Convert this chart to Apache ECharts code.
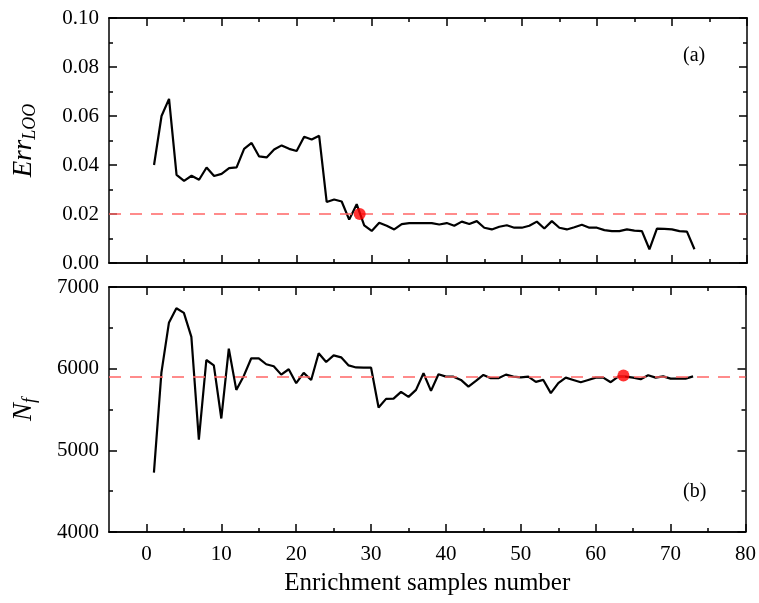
<!DOCTYPE html>
<html>
<head>
<meta charset="utf-8">
<script src="https://cdn.jsdelivr.net/npm/echarts@6/dist/echarts.min.js"></script>
<style>html,body{margin:0;padding:0;background:#fff;}#c{width:759px;height:603px;}</style>
</head>
<body>
<div id="c"></div>
<script>
const samples = [1,2,3,4,5,6,7,8,9,10,11,12,13,14,15,16,17,18,19,20,21,22,23,24,25,26,27,28,29,30,31,32,33,34,35,36,37,38,39,40,41,42,43,44,45,46,47,48,49,50,51,52,53,54,55,56,57,58,59,60,61,62,63,64,65,66,67,68,69,70,71,72,73];
const errLoo = [0.040,0.060,0.067,0.036,0.0335,0.0356,0.034,0.039,0.0355,0.0364,0.0387,0.039,0.0466,0.049,0.0435,0.0431,0.0463,0.048,0.0466,0.0457,0.0515,0.0504,0.0519,0.0249,0.0259,0.0251,0.0177,0.024,0.0154,0.0131,0.0164,0.0152,0.0137,0.0159,0.0163,0.0163,0.0163,0.0163,0.0157,0.0163,0.0152,0.0169,0.0159,0.0171,0.0144,0.0137,0.0148,0.0154,0.0144,0.0144,0.0152,0.0169,0.0141,0.0171,0.0144,0.0137,0.0146,0.0156,0.0144,0.0144,0.0134,0.013,0.013,0.0137,0.0132,0.013,0.0056,0.014,0.0139,0.0137,0.013,0.0128,0.0056];
const nf = [4728,5951,6561,6740,6683,6390,5130,6106,6041,5390,6244,5740,5911,6127,6127,6054,6029,5927,5993,5822,5948,5862,6188,6082,6163,6139,6040,6015,6012,6012,5524,5630,5634,5716,5655,5740,5944,5728,5932,5902,5902,5862,5780,5850,5923,5883,5883,5927,5902,5894,5902,5838,5862,5700,5822,5890,5862,5834,5862,5890,5890,5834,5902,5902,5890,5870,5919,5890,5906,5878,5878,5878,5906];
const errThreshold = 0.02;
const nfThreshold = 5900;
const errPoint = [28.4, 0.02];
const nfPoint = [63.7, 5915];
const xMajor = [0,10,20,30,40,50,60,70,80];
const xMinor = [5,15,25,35,45,55,65,75];

const FONT = 'Liberation Serif';
const chart = echarts.init(document.getElementById('c'));

function xAxes(gridIndex, position, showLabels) {
  const base = {
    type: 'value', gridIndex, position, min: -5, max: 80,
    splitLine: {show: false},
    axisLine: {show: true, onZero: false, lineStyle: {color: '#000', width: 1.5}}
  };
  return [
    Object.assign({}, base, {
      axisTick: {show: true, inside: true, length: 8, lineStyle: {color: '#000', width: 1.5}, customValues: xMajor},
      axisLabel: {show: showLabels, customValues: xMajor, fontFamily: FONT, fontSize: 21, color: '#000', margin: 12},
      name: showLabels ? 'Enrichment samples number' : '',
      nameLocation: 'middle', nameGap: 39,
      nameTextStyle: {fontFamily: FONT, fontSize: 25, color: '#000'}
    }),
    Object.assign({}, base, {
      axisTick: {show: true, inside: true, length: 4, lineStyle: {color: '#000', width: 1.5}, customValues: xMinor},
      axisLabel: {show: false}
    })
  ];
}

function yAxes(gridIndex, min, max, interval, fmt, name) {
  const base = {
    type: 'value', gridIndex, min, max, interval,
    splitLine: {show: false},
    axisLine: {show: true, onZero: false, lineStyle: {color: '#000', width: 1.5}},
    axisTick: {show: true, inside: true, length: 8, lineStyle: {color: '#000', width: 1.5}},
    minorTick: {show: true, splitNumber: 2, length: 4, lineStyle: {color: '#000', width: 1.5}}
  };
  return [
    Object.assign({}, base, {
      position: 'left',
      axisLabel: {show: true, formatter: fmt, fontFamily: FONT, fontSize: 21, color: '#000', margin: 10},
      name: name, nameLocation: 'middle', nameGap: 70, nameRotate: 90,
      nameTextStyle: {
        fontFamily: FONT, color: '#000',
        rich: {
          a: {fontFamily: FONT, fontStyle: 'italic', fontSize: 27, color: '#000'},
          b: {fontFamily: FONT, fontStyle: 'italic', fontSize: 18, color: '#000', padding: [12, 0, 0, 0]}
        }
      }
    }),
    Object.assign({}, base, {position: 'right', axisLabel: {show: false}})
  ];
}

const pairs = (xs, ys) => xs.map((x, i) => [x, ys[i]]);

const option = {
  animation: false,
  backgroundColor: '#fff',
  grid: [
    {left: 109, right: 12, top: 18, height: 245},
    {left: 109, right: 12, top: 287, height: 245}
  ],
  xAxis: [].concat(xAxes(0, 'bottom', false), xAxes(0, 'top', false), xAxes(1, 'bottom', true), xAxes(1, 'top', false)),
  yAxis: [].concat(
    yAxes(0, 0, 0.1, 0.02, v => v.toFixed(2), '{a|Err}{b|LOO}'),
    yAxes(1, 4000, 7000, 1000, v => String(v), '{a|N}{b|f}')
  ),
  series: [
    {
      type: 'line', xAxisIndex: 0, yAxisIndex: 0, data: pairs(samples, errLoo),
      symbol: 'none', lineStyle: {color: '#000', width: 2.2}, z: 3,
      markLine: {
        silent: true, symbol: 'none', label: {show: false},
        lineStyle: {color: 'rgba(255,100,100,0.75)', width: 2, type: [12, 9]},
        data: [{yAxis: errThreshold}]
      }
    },
    {
      type: 'scatter', xAxisIndex: 0, yAxisIndex: 0, data: [errPoint],
      symbolSize: 12, itemStyle: {color: '#ff0000'}, z: 5
    },
    {
      type: 'line', xAxisIndex: 4, yAxisIndex: 2, data: pairs(samples, nf),
      symbol: 'none', lineStyle: {color: '#000', width: 2.2}, z: 3,
      markLine: {
        silent: true, symbol: 'none', label: {show: false},
        lineStyle: {color: 'rgba(255,100,100,0.75)', width: 2, type: [12, 9]},
        data: [{yAxis: nfThreshold}]
      }
    },
    {
      type: 'scatter', xAxisIndex: 4, yAxisIndex: 2, data: [nfPoint],
      symbolSize: 12, itemStyle: {color: '#ff0000'}, z: 5
    }
  ],
  graphic: [
    {type: 'text', left: 683, top: 46, style: {text: '(a)', font: '20px "Liberation Serif"', fill: '#000'}},
    {type: 'text', left: 683, top: 482, style: {text: '(b)', font: '20px "Liberation Serif"', fill: '#000'}}
  ]
};
chart.setOption(option);
</script>
</body>
</html>
